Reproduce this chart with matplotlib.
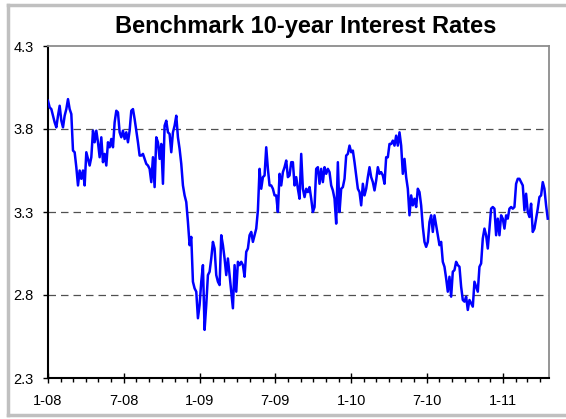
#!/usr/bin/env python3
"""Benchmark 10-year interest rates, Jan 2008 - Apr 2011."""
from __future__ import annotations

import matplotlib

matplotlib.use("Agg")
import matplotlib.dates as mdates
import matplotlib.pyplot as plt
import numpy as np
import pandas as pd
from matplotlib.lines import Line2D
from matplotlib.ticker import FuncFormatter

plt.rcParams["font.family"] = ["Liberation Sans", "DejaVu Sans"]

# readings spaced evenly between first and last date (about every 4 days)
start_date = "2008-01-01"
end_date = "2011-04-19"
yields = [
    3.97, 3.93, 3.92, 3.88, 3.84, 3.81, 3.88, 3.94, 3.85, 3.81,
    3.88, 3.92, 3.98, 3.92, 3.89, 3.67, 3.66, 3.57, 3.46, 3.55,
    3.50, 3.55, 3.46, 3.66, 3.62, 3.58, 3.63, 3.79, 3.72, 3.79,
    3.72, 3.63, 3.75, 3.60, 3.65, 3.58, 3.72, 3.69, 3.74, 3.69,
    3.84, 3.91, 3.90, 3.78, 3.75, 3.79, 3.74, 3.78, 3.72, 3.79,
    3.91, 3.92, 3.86, 3.79, 3.72, 3.64, 3.64, 3.65, 3.62, 3.59,
    3.58, 3.56, 3.48, 3.63, 3.45, 3.75, 3.72, 3.62, 3.71, 3.47,
    3.82, 3.85, 3.78, 3.77, 3.66, 3.78, 3.82, 3.88, 3.75, 3.68,
    3.59, 3.46, 3.40, 3.36, 3.24, 3.10, 3.15, 2.88, 2.84, 2.82,
    2.66, 2.74, 2.88, 2.98, 2.59, 2.74, 2.92, 2.94, 3.02, 3.12,
    3.08, 2.92, 2.88, 2.86, 3.16, 3.10, 3.02, 2.92, 3.02, 2.92,
    2.82, 2.72, 2.98, 2.82, 3.00, 2.98, 3.00, 2.98, 2.91, 3.06,
    3.08, 3.16, 3.18, 3.12, 3.16, 3.20, 3.31, 3.56, 3.44, 3.51,
    3.52, 3.69, 3.56, 3.46, 3.46, 3.44, 3.40, 3.40, 3.30, 3.53,
    3.46, 3.54, 3.57, 3.61, 3.51, 3.52, 3.60, 3.60, 3.46, 3.51,
    3.44,
    3.38, 3.65, 3.44, 3.39, 3.44, 3.42, 3.45, 3.38, 3.30, 3.33,
    3.56, 3.57, 3.47, 3.56, 3.48, 3.57, 3.53, 3.56, 3.54, 3.46,
    3.43, 3.38, 3.23, 3.60, 3.30, 3.44, 3.45, 3.50, 3.64, 3.65,
    3.70, 3.66, 3.67, 3.60, 3.52, 3.44, 3.42, 3.34, 3.47, 3.40,
    3.44, 3.51, 3.57, 3.51, 3.48, 3.43, 3.49, 3.57, 3.53, 3.54,
    3.52, 3.47, 3.63, 3.63, 3.71, 3.71, 3.73, 3.70, 3.76, 3.70,
    3.78, 3.70, 3.53, 3.62, 3.51, 3.44, 3.28, 3.40, 3.34, 3.38,
    3.33, 3.44, 3.42, 3.34, 3.21, 3.12, 3.09, 3.12, 3.24, 3.28,
    3.18, 3.28, 3.22, 3.16, 3.10, 3.12, 3.00, 2.97, 2.90, 2.82,
    2.91, 2.79, 2.94, 2.95, 3.00, 2.98, 2.97, 2.85, 2.77, 2.76,
    2.79, 2.71, 2.77, 2.75, 2.73, 2.88, 2.85, 2.82, 2.97, 2.99,
    3.14, 3.20, 3.16, 3.08, 3.20, 3.32, 3.33, 3.32, 3.16, 3.26,
    3.16, 3.28, 3.26, 3.20, 3.28, 3.26, 3.32, 3.33, 3.32, 3.33,
    3.47, 3.50, 3.50, 3.48, 3.46, 3.31, 3.41, 3.30, 3.27, 3.35,
    3.18, 3.20, 3.26, 3.32, 3.39, 3.40, 3.48, 3.44, 3.34, 3.26,
]
y_ticks = [2.3, 2.8, 3.3, 3.8, 4.3]
grid_levels = [2.8, 3.3, 3.8]
title = "Benchmark 10-year Interest Rates"


def month_label(value: float, _pos: int) -> str:
    d = mdates.num2date(value)
    return f"{d.month}-{d.year % 100:02d}"


def main() -> None:
    dates = pd.date_range(start_date, end_date, periods=len(yields))

    W, H = 566, 419
    fig = plt.figure(figsize=(W / 100, H / 100), dpi=100)
    ax = fig.add_axes([48 / W, 1 - 378 / H, (549 - 48) / W, (378 - 46) / H])

    for level in grid_levels:
        ax.axhline(level, color="#505050", lw=0.9, dashes=(6, 4), zorder=1)
    ax.plot(dates, yields, color="#0000ff", lw=1.8, zorder=3)

    ax.set_ylim(2.3, 4.3)
    ax.set_yticks(y_ticks)
    ax.set_yticklabels([f"{v:.1f}" for v in y_ticks])
    ax.set_xlim(pd.Timestamp("2008-01-01"), pd.Timestamp("2011-04-22"))
    ax.xaxis.set_major_locator(mdates.MonthLocator(bymonth=(1, 7)))
    ax.xaxis.set_minor_locator(mdates.MonthLocator())
    ax.xaxis.set_major_formatter(FuncFormatter(month_label))

    ax.tick_params(axis="y", direction="out", length=3.5, width=1, pad=7,
                   labelsize=10.5, colors="black")
    ax.tick_params(axis="x", which="major", direction="inout", length=6.5,
                   width=1, pad=8, labelsize=10.5)
    ax.tick_params(axis="x", which="minor", direction="out", length=3, width=1)

    for side in ("left", "bottom"):
        ax.spines[side].set_color("black")
        ax.spines[side].set_linewidth(1.5)
    for side in ("top", "right"):
        ax.spines[side].set_color("#8c8c8c")
        ax.spines[side].set_linewidth(1.3)

    fig.text(306 / W, 1 - 26 / H, title, ha="center", va="center",
             fontsize=17, fontweight="bold")

    # light grey chart-area frame
    frame = dict(color="#c0c0c0", lw=2.5, transform=fig.transFigure)
    x0, x1 = 8 / W, 1.02
    y0, y1 = 1 - 414.5 / H, 1 - 5.5 / H
    fig.add_artist(Line2D([x0, x1], [y1, y1], **frame))
    fig.add_artist(Line2D([x0, x1], [y0, y0], **frame))
    fig.add_artist(Line2D([x0, x0], [y0, y1], **frame))

    fig.savefig("out.png", dpi=100)
    plt.close(fig)


if __name__ == "__main__":
    main()
